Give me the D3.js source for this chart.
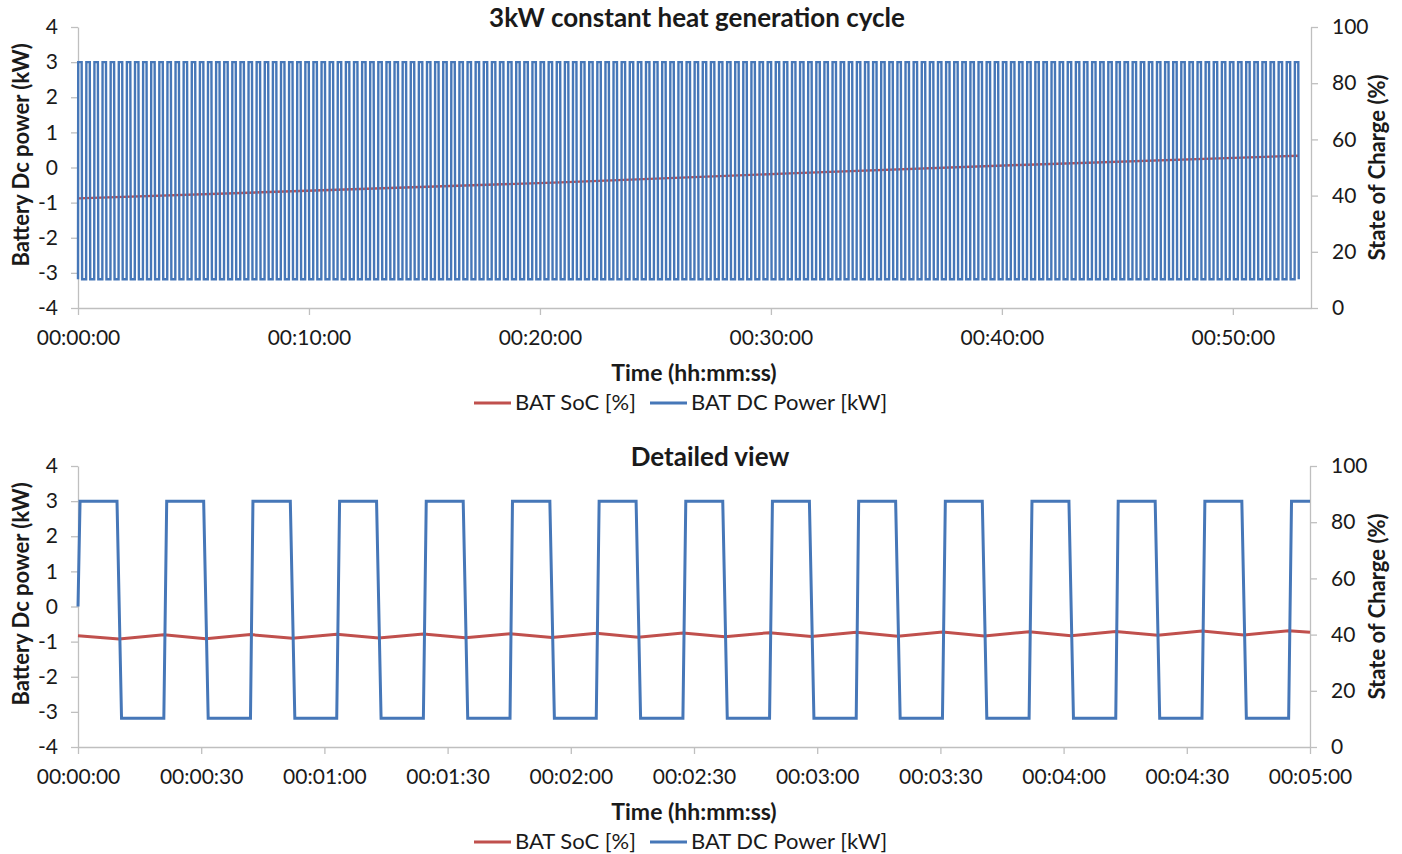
<!DOCTYPE html>
<html>
<head>
<meta charset="utf-8">
<script src="https://cdn.jsdelivr.net/npm/d3@7"></script>
<style>
    body { margin: 0; background: #fff; }
    svg text { font-family: Lato, "Open Sans", sans-serif; fill: #1a1a1a; }
</style>
</head>
<body>
<svg id="chart" width="1402" height="854"></svg>
<script>
// ---- overview (3kW constant heat generation cycle), times in seconds ----
const overviewCycleStart = [
    0, 21.1, 42.1, 63.2, 84.3, 105.4, 126.4, 147.5, 168.6, 189.6,
    210.7, 231.8, 252.8, 273.9, 295.0, 316.1, 337.1, 358.2, 379.3, 400.3,
    421.4, 442.5, 463.5, 484.6, 505.7, 526.8, 547.8, 568.9, 590.0, 611.0,
    632.1, 653.2, 674.2, 695.3, 716.4, 737.5, 758.5, 779.6, 800.7, 821.7,
    842.8, 863.9, 884.9, 906.0, 927.1, 948.2, 969.2, 990.3, 1011.4, 1032.4,
    1053.5, 1074.6, 1095.6, 1116.7, 1137.8, 1158.9, 1179.9, 1201.0, 1222.1, 1243.1,
    1264.2, 1285.3, 1306.3, 1327.4, 1348.5, 1369.6, 1390.6, 1411.7, 1432.8, 1453.8,
    1474.9, 1496.0, 1517.0, 1538.1, 1559.2, 1580.3, 1601.3, 1622.4, 1643.5, 1664.5,
    1685.6, 1706.7, 1727.7, 1748.8, 1769.9, 1791.0, 1812.0, 1833.1, 1854.2, 1875.2,
    1896.3, 1917.4, 1938.4, 1959.5, 1980.6, 2001.7, 2022.7, 2043.8, 2064.9, 2085.9,
    2107.0, 2128.1, 2149.1, 2170.2, 2191.3, 2212.4, 2233.4, 2254.5, 2275.6, 2296.6,
    2317.7, 2338.8, 2359.8, 2380.9, 2402.0, 2423.1, 2444.1, 2465.2, 2486.3, 2507.3,
    2528.4, 2549.5, 2570.5, 2591.6, 2612.7, 2633.8, 2654.8, 2675.9, 2697.0, 2718.0,
    2739.1, 2760.2, 2781.2, 2802.3, 2823.4, 2844.5, 2865.5, 2886.6, 2907.7, 2928.7,
    2949.8, 2970.9, 2991.9, 3013.0, 3034.1, 3055.2, 3076.2, 3097.3, 3118.4, 3139.4,
    3160.5
];
// shape of one charge/discharge cycle (offset in s, power in kW)
const cycleOffset = [0, 0.6, 9.5, 10.7];
const cycleLevel = [-3.18, 3.0, 3.0, -3.18];

const overviewSocTime = [0, 654, 1254, 1848, 2448, 3171];
const overviewSoc = [39.0, 42.0, 44.7, 47.9, 50.9, 54.2];
const overviewTicks = [0, 600, 1200, 1800, 2400, 3000];

// ---- detailed view, first 5 minutes ----
const detailTime = [0, 0.5,
    9.5, 10.6, 20.9, 21.6, 30.6, 31.7, 42.0, 42.6, 51.7, 52.8, 63.0, 63.7,
    72.7, 73.8, 84.1, 84.8, 93.8, 94.9, 105.2, 105.8, 114.9, 116.0, 126.2, 126.9,
    135.9, 137.0, 147.3, 148.0, 157.0, 158.1, 168.4, 169.1, 178.1, 179.2, 189.5, 190.1,
    199.1, 200.2, 210.5, 211.2, 220.2, 221.3, 231.6, 232.3, 241.3, 242.4, 252.7, 253.3,
    262.3, 263.4, 273.7, 274.4, 283.4, 284.5, 294.8, 295.5, 300];
const detailPower = [0, 3.0,
    3.0, -3.18, -3.18, 3.0, 3.0, -3.18, -3.18, 3.0, 3.0, -3.18, -3.18, 3.0,
    3.0, -3.18, -3.18, 3.0, 3.0, -3.18, -3.18, 3.0, 3.0, -3.18, -3.18, 3.0,
    3.0, -3.18, -3.18, 3.0, 3.0, -3.18, -3.18, 3.0, 3.0, -3.18, -3.18, 3.0,
    3.0, -3.18, -3.18, 3.0, 3.0, -3.18, -3.18, 3.0, 3.0, -3.18, -3.18, 3.0,
    3.0, -3.18, -3.18, 3.0, 3.0, -3.18, -3.18, 3.0, 3.0];
const detailSocTime = [0,
    10.0, 20.9, 31.1, 42.0, 52.2, 63.0, 73.2, 84.1, 94.3, 105.2, 115.4, 126.2, 136.4, 147.3,
    157.5, 168.4, 178.6, 189.5, 199.6, 210.5, 220.7, 231.6, 241.8, 252.7, 262.9, 273.7, 283.9, 294.8,
    300];
const detailSoc = [39.6,
    38.4, 39.9, 38.5, 40.0, 38.7, 40.1, 38.8, 40.2, 38.9, 40.3, 39.0, 40.5, 39.1, 40.6,
    39.2, 40.7, 39.3, 40.8, 39.4, 40.9, 39.5, 41.0, 39.6, 41.1, 39.8, 41.3, 39.9, 41.4,
    40.8];
const detailTicks = [0, 30, 60, 90, 120, 150, 180, 210, 240, 270, 300];

const powerTicks = [-4, -3, -2, -1, 0, 1, 2, 3, 4];
const socTicks = [0, 20, 40, 60, 80, 100];
const seriesNames = ['BAT SoC [%]', 'BAT DC Power [kW]'];
const socColor = '#c0504d';
const powerColor = '#4677b8';
const axisColor = '#bfbfbf';

const svg = d3.select('#chart');

function fmtTime(s) {
    const h = Math.floor(s / 3600);
    const m = Math.floor((s % 3600) / 60);
    const sec = Math.round(s % 60);
    return [h, m, sec].map(v => String(v).padStart(2, '0')).join(':');
}

function drawPanel(p) {
    const g = svg.append('g');

    const x = d3.scaleLinear().domain(p.xDomain).range([p.left, p.right]);
    const y = d3.scaleLinear().domain([-4, 4]).range([p.bottom, p.top]);
    const y2 = d3.scaleLinear().domain([0, 100]).range([p.bottom, p.top]);

    const styleAxis = sel => {
        sel.select('.domain').attr('stroke', axisColor).attr('stroke-width', 1.3);
        sel.selectAll('.tick line').attr('stroke', axisColor).attr('stroke-width', 1.3);
        sel.selectAll('.tick text').attr('font-size', 21).attr('fill', '#1a1a1a');
    };

    g.append('g')
        .attr('transform', 'translate(0,' + p.bottom + ')')
        .call(d3.axisBottom(x).tickValues(p.ticks).tickFormat(fmtTime).tickSize(7).tickSizeOuter(0).tickPadding(15))
        .call(styleAxis);

    // plain hyphen for negatives, like the original
    g.append('g')
        .attr('transform', 'translate(' + p.left + ',0)')
        .call(d3.axisLeft(y).tickValues(powerTicks).tickFormat(d => String(d)).tickSize(7).tickSizeOuter(0).tickPadding(13))
        .call(styleAxis);

    g.append('g')
        .attr('transform', 'translate(' + p.right + ',0)')
        .call(d3.axisRight(y2).tickValues(socTicks).tickSize(7).tickSizeOuter(0).tickPadding(14))
        .call(styleAxis);

    // SoC on secondary axis, drawn under the power trace
    g.append('path')
        .datum(p.soc)
        .attr('fill', 'none')
        .attr('stroke', socColor)
        .attr('stroke-width', p.socWidth)
        .attr('d', d3.line().x(d => x(d.t)).y(d => y2(d.v)));

    g.append('path')
        .datum(p.power)
        .attr('fill', 'none')
        .attr('stroke', powerColor)
        .attr('stroke-width', p.powerWidth)
        .attr('stroke-linejoin', 'miter')
        .attr('d', d3.line().x(d => x(d.t)).y(d => y(d.v)));

    // titles
    g.append('text')
        .attr('x', p.titleX).attr('y', p.top)
        .attr('text-anchor', 'middle')
        .attr('font-size', 26).attr('font-weight', 700)
        .text(p.title);

    g.append('text')
        .attr('transform', 'translate(21,' + (p.top + (p.bottom - p.top) * 0.455) + ') rotate(-90)')
        .attr('text-anchor', 'middle').attr('dy', '0.36em')
        .attr('font-size', 22).attr('font-weight', 700)
        .text('Battery Dc power (kW)');

    g.append('text')
        .attr('transform', 'translate(1377,' + (p.top + p.bottom) / 2 + ') rotate(-90)')
        .attr('text-anchor', 'middle').attr('dy', '0.36em')
        .attr('font-size', 22).attr('font-weight', 700)
        .text('State of Charge (%)');

    g.append('text')
        .attr('x', 694).attr('y', p.bottom + 73)
        .attr('text-anchor', 'middle')
        .attr('font-size', 23).attr('font-weight', 700)
        .text('Time (hh:mm:ss)');

    // legend
    const ly = p.bottom + 95;
    const legend = [
        { name: seriesNames[0], color: socColor, x: 474 },
        { name: seriesNames[1], color: powerColor, x: 650 }
    ];
    legend.forEach(l => {
        g.append('line')
            .attr('x1', l.x).attr('x2', l.x + 37)
            .attr('y1', ly).attr('y2', ly)
            .attr('stroke', l.color).attr('stroke-width', 3);
        g.append('text')
            .attr('x', l.x + 41).attr('y', ly).attr('dy', '0.33em')
            .attr('font-size', 22)
            .text(l.name);
    });
}

const overviewPower = [];
overviewCycleStart.forEach(c => {
    cycleOffset.forEach((o, i) => overviewPower.push({ t: c + o, v: cycleLevel[i] }));
});

drawPanel({
    title: '3kW constant heat generation cycle',
    titleX: 697,
    left: 78, right: 1311, top: 27, bottom: 308,
    xDomain: [0, 3203],
    ticks: overviewTicks,
    power: overviewPower,
    soc: overviewSocTime.map((t, i) => ({ t: t, v: overviewSoc[i] })),
    powerWidth: 2.4,
    socWidth: 2.4
});

drawPanel({
    title: 'Detailed view',
    titleX: 710,
    left: 78, right: 1310, top: 466, bottom: 747,
    xDomain: [0, 300],
    ticks: detailTicks,
    power: detailTime.map((t, i) => ({ t: t, v: detailPower[i] })),
    soc: detailSocTime.map((t, i) => ({ t: t, v: detailSoc[i] })),
    powerWidth: 3,
    socWidth: 3
});
</script>
</body>
</html>
